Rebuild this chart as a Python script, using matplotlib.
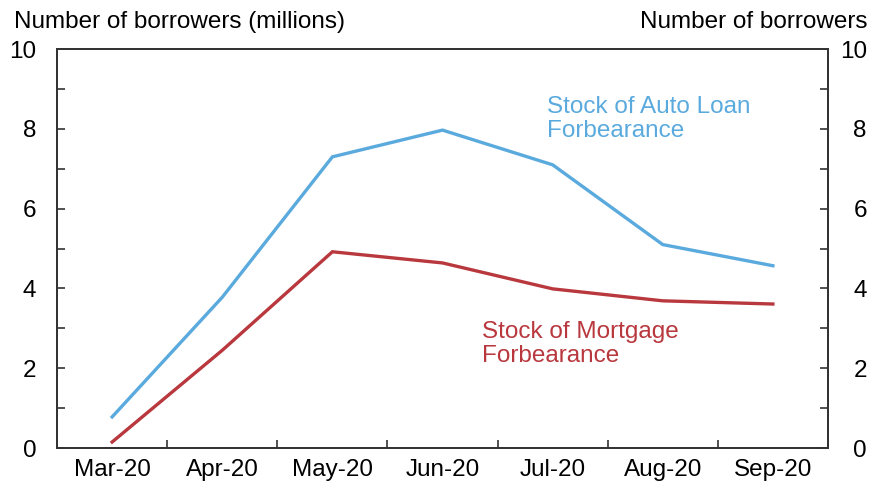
import matplotlib
matplotlib.use("Agg")
import matplotlib.pyplot as plt
import numpy as np

plt.rcParams['font.family'] = ['Liberation Sans', 'DejaVu Sans']

months = ["Mar-20", "Apr-20", "May-20", "Jun-20", "Jul-20", "Aug-20", "Sep-20"]
auto_loan = [0.78, 3.78, 7.3, 7.97, 7.1, 5.1, 4.57]
mortgage = [0.15, 2.45, 4.92, 4.64, 3.99, 3.69, 3.61]

blue = "#5aaade"
red = "#b8383e"
fs = 17.5
tick_col = "#333333"

fig = plt.figure(figsize=(8.78, 4.9), dpi=100)
ax = fig.add_axes([0.065, 0.0857, 0.878, 0.814])

x = np.arange(len(months))
ax.plot(x, auto_loan, color=blue, lw=2.4, solid_joinstyle="miter")
ax.plot(x, mortgage, color=red, lw=2.4, solid_joinstyle="miter")

ax.set_xlim(-0.5, len(months) - 0.5)
ax.set_ylim(0, 10)

# category labels centered, ticks on the boundaries
ax.set_xticks(x)
ax.set_xticklabels(months, fontsize=fs)
ax.tick_params(axis="x", which="major", length=0, pad=8)
ax.set_xticks(np.arange(0.5, len(months) - 1, 1), minor=True)
ax.tick_params(axis="x", which="minor", direction="in", length=6, width=1.2, color=tick_col)

yt = np.arange(0, 11, 2)
yt_minor = np.arange(1, 10, 2)
ax.set_yticks(yt)
ax.set_yticks(yt_minor, minor=True)
ax.tick_params(axis="y", which="both", direction="in", length=6, width=1.2,
               color=tick_col, labelsize=fs, pad=15)

# right-hand axis, same scale
ax2 = ax.twinx()
ax2.set_ylim(ax.get_ylim())
ax2.set_yticks(yt)
ax2.set_yticks(yt_minor, minor=True)
ax2.tick_params(axis="y", which="both", direction="in", length=6, width=1.2,
                color=tick_col, labelsize=fs, pad=28)
for lab in ax2.get_yticklabels():
    lab.set_horizontalalignment("right")

for a in (ax, ax2):
    for s in a.spines.values():
        s.set_color(tick_col)
        s.set_linewidth(1.3)

ax.text(3.95, 8.25, "Stock of Auto Loan\nForbearance", color=blue, fontsize=fs,
        va="center", ha="left", linespacing=1.12)
ax.text(3.36, 2.6, "Stock of Mortgage\nForbearance", color=red, fontsize=fs,
        va="center", ha="left", linespacing=1.12)

fig.text(14 / 878, 1 - 22 / 490, "Number of borrowers (millions)", fontsize=fs,
         ha="left", va="center")
fig.text(868 / 878, 1 - 22 / 490, "Number of borrowers", fontsize=fs,
         ha="right", va="center")

fig.savefig("out.png", dpi=100)
